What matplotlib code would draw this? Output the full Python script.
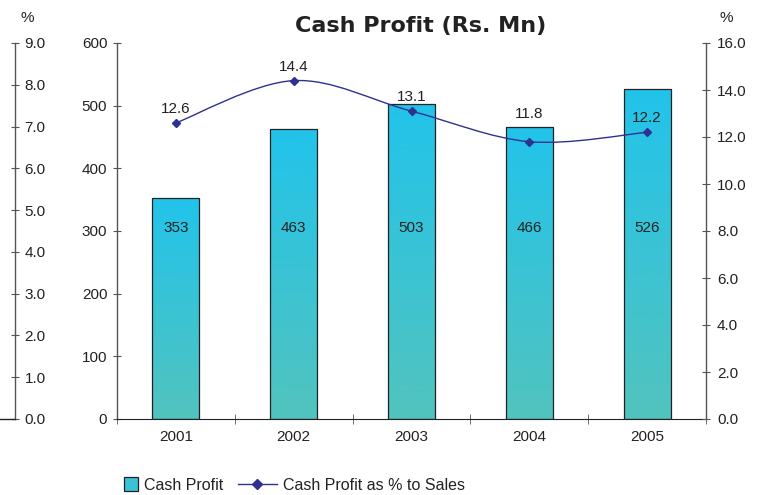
import numpy as np
import matplotlib.pyplot as plt
from matplotlib.path import Path
from matplotlib.patches import PathPatch, Patch, Rectangle
from matplotlib.lines import Line2D
from matplotlib.colors import LinearSegmentedColormap
from matplotlib.legend_handler import HandlerPatch

years = ['2001', '2002', '2003', '2004', '2005']
cash_profit = [353, 463, 503, 466, 526]
pct_to_sales = [12.6, 14.4, 13.1, 11.8, 12.2]

plt.rcParams['font.family'] = ['Liberation Sans', 'DejaVu Sans']
txt = '#222222'
spine = '#555555'
navy = '#2E3192'
fs = 11

W, H = 765, 495
bottom, top = 1 - 419/H, 376/H

fig = plt.figure(figsize=(7.65, 4.95), dpi=100)
ax = fig.add_axes([117/W, bottom, 589/W, top])
ax2 = ax.twinx()
ax3 = fig.add_axes([15/W, bottom, 0.00001, top])  # outer % axis, 0-9
ax.set_zorder(2)
ax2.set_zorder(3)
ax.patch.set_visible(False)

x = np.arange(len(years))

# gradient bars
bars = ax.bar(x, cash_profit, width=0.4, facecolor='none', edgecolor='#222222', linewidth=0.9, zorder=3)
grad = np.linspace(0, 1, 256).reshape(-1, 1)
cmap = LinearSegmentedColormap.from_list('g', ['#52C3BE', '#22C3EB'])
for b in bars:
    x0, w, h = b.get_x(), b.get_width(), b.get_height()
    im = ax.imshow(grad, cmap=cmap, origin='lower', aspect='auto',
                   extent=[x0, x0 + w, 0, h], zorder=2)
    im.set_clip_path(b)
for xi, v in zip(x, cash_profit):
    ax.text(xi, 304, str(v), ha='center', va='center', fontsize=fs, color=txt, zorder=5)

ax.set_xlim(-0.5, 4.5)
ax.set_ylim(0, 600)
ax.set_yticks(range(0, 601, 100))
ax.set_xticks(x)
ax.set_xticklabels(years)
ax.set_xticks(np.arange(-0.5, 5, 1), minor=True)
ax.tick_params(axis='x', which='major', length=0, pad=8, labelsize=fs, labelcolor=txt)
ax.tick_params(axis='x', which='minor', length=7, direction='inout', color=spine)
ax.tick_params(axis='y', length=6, direction='inout', color=spine, labelsize=fs, labelcolor=txt, pad=4)

# smooth line (catmull-rom drawn as cubic bezier)
pts = np.column_stack([x, pct_to_sales]).astype(float)
verts = [tuple(pts[0])]
codes = [Path.MOVETO]
for i in range(len(pts) - 1):
    p0 = pts[i - 1] if i > 0 else pts[i]
    p1, p2 = pts[i], pts[i + 1]
    p3 = pts[i + 2] if i + 2 < len(pts) else pts[i + 1]
    c1 = p1 + (p2 - p0) / 6
    c2 = p2 - (p3 - p1) / 6
    verts += [tuple(c1), tuple(c2), tuple(p2)]
    codes += [Path.CURVE4] * 3
ax2.add_patch(PathPatch(Path(verts, codes), facecolor='none', edgecolor=navy, lw=1.0, zorder=4))
ax2.plot(x, pct_to_sales, linestyle='none', marker='D', markersize=4, color=navy, zorder=5)
label_dy = [10, 10, 10, 20, 10]  # 2004 label sits higher to clear the bar
for xi, v, dy in zip(x, pct_to_sales, label_dy):
    ax2.annotate(f'{v:.1f}', (xi, v), xytext=(0, dy), textcoords='offset points',
                 ha='center', va='center', fontsize=fs, color=txt)
ax2.set_ylim(0, 16)
ax2.set_yticks(np.arange(0, 16.1, 2))
ax2.set_yticklabels([f'{t:.1f}' for t in np.arange(0, 16.1, 2)])
ax2.tick_params(axis='y', length=6, direction='inout', color=spine, labelsize=fs, labelcolor=txt, pad=5)

# outer left % axis (labels sit right of its spine)
ax3.set_ylim(0, 9)
ax3.set_xticks([])
ax3.yaxis.tick_right()
ax3.set_yticks(np.arange(0, 9.1, 1))
ax3.set_yticklabels([f'{t:.1f}' for t in np.arange(0, 9.1, 1)])
ax3.tick_params(axis='y', length=6, direction='inout', color=spine, labelsize=fs, labelcolor=txt, pad=4)
ax3.patch.set_visible(False)

for a in (ax, ax2, ax3):
    for s in a.spines.values():
        s.set_visible(False)
ax.spines['left'].set_visible(True)
ax.spines['bottom'].set_visible(True)
ax2.spines['right'].set_visible(True)
ax3.spines['right'].set_visible(True)
for s in (ax.spines['left'], ax2.spines['right'], ax3.spines['right']):
    s.set_color(spine)
    s.set_linewidth(1.0)
ax.spines['bottom'].set_color('#222222')

fig.add_artist(Line2D([0, 15/W], [bottom, bottom], color='#222222', lw=1.0))

fig.text(27/W, 1 - 18/H, '%', ha='center', va='center', fontsize=fs, color=txt)
fig.text(726/W, 1 - 18/H, '%', ha='center', va='center', fontsize=fs, color=txt)
fig.text(421/W, 1 - 26/H, 'Cash Profit (Rs. Mn)', ha='center', va='center',
         fontsize=16, fontweight='bold', color=txt, family=['DejaVu Sans'])


class SquareHandler(HandlerPatch):
    def create_artists(self, legend, orig_handle, xdescent, ydescent, width, height, fontsize, trans):
        s = height * 1.25
        r = Rectangle((width - xdescent - s, -ydescent - (s - height) / 2), s, s,
                      facecolor=orig_handle.get_facecolor(), edgecolor=orig_handle.get_edgecolor(),
                      lw=0.9, transform=trans)
        return [r]


handles = [Patch(facecolor='#3AC3D6', edgecolor='#222222', label='Cash Profit'),
           Line2D([], [], color=navy, marker='D', markersize=5, lw=1.0, label='Cash Profit as % to Sales')]
fig.legend(handles=handles, handler_map={Patch: SquareHandler()}, loc='lower left',
           bbox_to_anchor=(84/W, -0.025), ncol=2, frameon=False, fontsize=11.5,
           handlelength=2.5, columnspacing=0.9, handletextpad=0.35, labelcolor=txt)

fig.savefig('out.png', dpi=100)
